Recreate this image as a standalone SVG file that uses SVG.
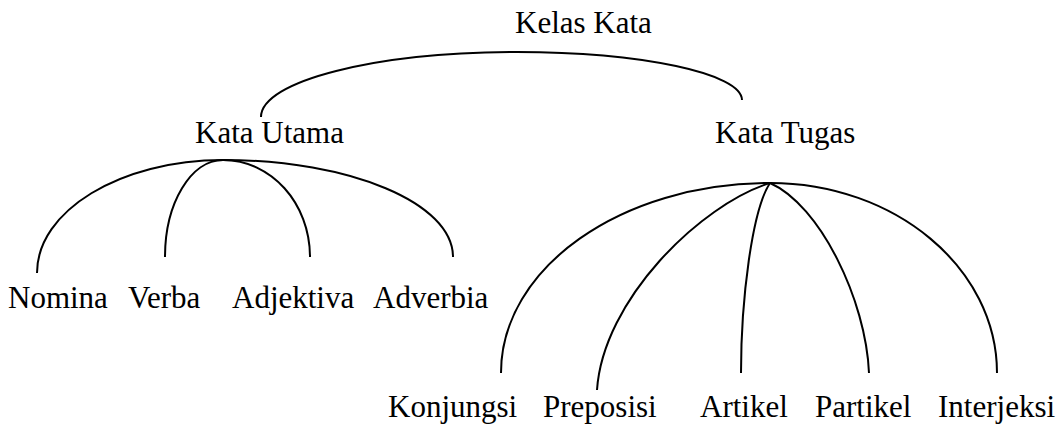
<svg xmlns="http://www.w3.org/2000/svg" width="1062" height="428" viewBox="0 0 1062 428">
  <style>
    .lbl { font-family: "Liberation Serif", "Times New Roman", serif; font-size: 31px; fill: #000; }
    .edge { fill: none; stroke: #000; stroke-width: 2; stroke-linecap: butt; }
  </style>
  <rect width="1062" height="428" fill="#fff"/>

  <!-- connectors -->
  <g id="connectors">
    <!-- Kelas Kata -> Kata Utama / Kata Tugas -->
    <path class="edge" d="M261,117 C261,81 376,52 517,52 C641,52 742,73.5 742,100"/>
    <!-- Kata Utama -> children -->
    <path class="edge" d="M37,273 C37,211 120,160 223,160 C350,160 453,203 453,257"/>
    <path class="edge" d="M165,257 C165,203 191,160 223,160 C271,160 310,203 310,257"/>
    <!-- Kata Tugas -> children -->
    <path class="edge" d="M501,373 C501,268 621,183 770,183 C895,183 997,268 997,373"/>
    <path class="edge" d="M597,390 C603,300 700,205 770,183"/>
    <path class="edge" d="M741,373 C741,300 752,210 770,183"/>
    <path class="edge" d="M770,183 C820,205 866,300 869,373"/>
  </g>

  <g id="kelas-kata"><text class="lbl" x="515" y="33">Kelas Kata</text></g>
  <g id="kata-utama"><text class="lbl" x="195" y="143">Kata Utama</text></g>
  <g id="kata-tugas"><text class="lbl" x="715" y="143">Kata Tugas</text></g>

  <g id="nomina"><text class="lbl" x="8" y="308">Nomina</text></g>
  <g id="verba"><text class="lbl" x="128" y="308">Verba</text></g>
  <g id="adjektiva"><text class="lbl" x="232" y="308">Adjektiva</text></g>
  <g id="adverbia"><text class="lbl" x="373" y="308">Adverbia</text></g>

  <g id="konjungsi"><text class="lbl" x="388" y="417">Konjungsi</text></g>
  <g id="preposisi"><text class="lbl" x="543" y="417">Preposisi</text></g>
  <g id="artikel"><text class="lbl" x="700" y="417">Artikel</text></g>
  <g id="partikel"><text class="lbl" x="815" y="417">Partikel</text></g>
  <g id="interjeksi"><text class="lbl" x="938" y="417">Interjeksi</text></g>
</svg>
